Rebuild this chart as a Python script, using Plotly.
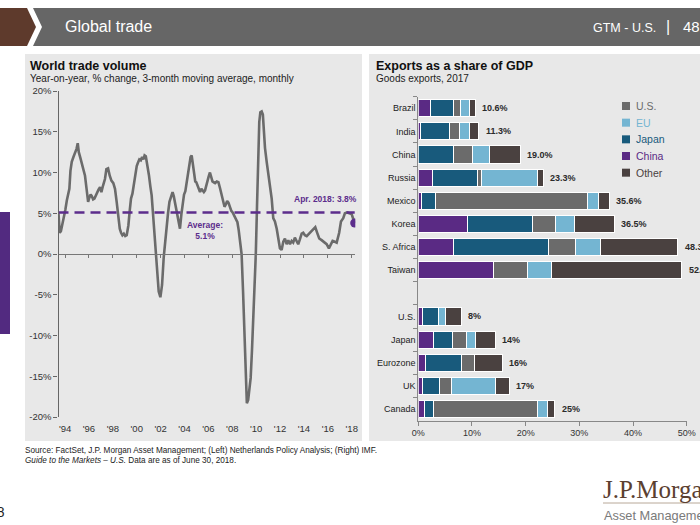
import plotly.graph_objects as go

W, H = 700, 525
FONT = "Liberation Sans, Arial, sans-serif"

# ---------------- Left panel: world trade volume ----------------
trade_time = [1993.45, 1993.55, 1993.65, 1993.78, 1993.92, 1994.02, 1994.15, 1994.28, 1994.36, 1994.45,
              1994.56, 1994.70, 1994.85, 1994.96, 1995.06, 1995.15, 1995.28, 1995.40, 1995.55, 1995.67,
              1995.80, 1995.93, 1996.03, 1996.14, 1996.24, 1996.35, 1996.46, 1996.56, 1996.66, 1996.80,
              1996.93, 1997.04, 1997.18, 1997.34, 1997.46, 1997.60, 1997.74, 1997.88, 1998.04, 1998.18,
              1998.32, 1998.46, 1998.58, 1998.69, 1998.80, 1998.92, 1999.04, 1999.16, 1999.30, 1999.42,
              1999.52, 1999.64, 1999.76, 1999.87, 2000.00, 2000.10, 2000.22, 2000.34, 2000.45, 2000.56,
              2000.66, 2000.76, 2000.86, 2001.02, 2001.14, 2001.25, 2001.36, 2001.47, 2001.58, 2001.70,
              2001.84, 2001.98, 2002.12, 2002.26, 2002.40, 2002.51, 2002.62, 2002.74, 2002.87, 2003.00,
              2003.10, 2003.20, 2003.31, 2003.41, 2003.52, 2003.62, 2003.74, 2003.85, 2003.96, 2004.07,
              2004.18, 2004.30, 2004.40, 2004.51, 2004.60, 2004.70, 2004.80, 2004.90, 2004.99, 2005.08,
              2005.19, 2005.30, 2005.41, 2005.52, 2005.62, 2005.72, 2005.82, 2005.92, 2006.02, 2006.13,
              2006.24, 2006.34, 2006.45, 2006.56, 2006.70, 2006.84, 2006.97, 2007.10, 2007.24, 2007.35,
              2007.47, 2007.57, 2007.68, 2007.80, 2007.92, 2008.03, 2008.14, 2008.24, 2008.34, 2008.43,
              2008.54, 2008.65, 2008.78, 2008.90, 2009.01, 2009.11, 2009.22, 2009.33, 2009.44, 2009.54,
              2009.65, 2009.76, 2009.86, 2009.97, 2010.07, 2010.16, 2010.26, 2010.35, 2010.46, 2010.56,
              2010.64, 2010.74, 2010.88, 2011.01, 2011.15, 2011.30, 2011.43, 2011.57, 2011.72, 2011.85,
              2011.99, 2012.13, 2012.27, 2012.41, 2012.55, 2012.69, 2012.83, 2012.97, 2013.10, 2013.24,
              2013.38, 2013.52, 2013.66, 2013.81, 2013.94, 2014.08, 2014.23, 2014.44, 2014.64, 2014.78,
              2014.95, 2015.11, 2015.28, 2015.48, 2015.62, 2015.76, 2015.90, 2016.09, 2016.23, 2016.40,
              2016.59, 2016.74, 2016.95, 2017.10, 2017.29, 2017.43, 2017.62, 2017.85, 2017.99, 2018.13,
              2018.25]
trade_yoy = [5.0, 2.6, 2.8, 3.6, 4.8, 5.4, 6.6, 7.6, 8.0, 10.2,
             11.3, 11.9, 12.5, 12.9, 13.6, 12.5, 11.8, 11.1, 10.4, 9.6,
             8.0, 6.4, 6.9, 7.3, 7.1, 6.7, 6.8, 7.2, 7.4, 7.9,
             8.2, 7.6, 8.4, 9.2, 10.4, 10.5, 9.6, 9.0, 8.7, 8.0,
             6.4, 4.4, 3.1, 2.6, 2.3, 2.5, 2.2, 2.3, 3.5, 5.4,
             6.8, 7.4, 8.6, 9.7, 10.8, 11.2, 11.6, 11.5, 11.9, 11.6,
             12.1, 12.0, 11.2, 9.7, 8.3, 7.2, 5.0, 2.7, 0.2, -2.6,
             -4.6, -5.3, -3.8, -0.4, 2.0, 3.6, 5.0, 6.4, 7.1, 7.6,
             7.1, 6.3, 5.5, 4.7, 3.9, 3.1, 4.9, 6.1, 7.3, 7.7,
             8.9, 10.2, 11.3, 11.9, 12.1, 11.1, 10.0, 8.9, 8.8, 8.4,
             8.0, 7.6, 8.0, 7.7, 7.6, 7.8, 8.5, 8.9, 9.5, 10.0,
             9.4, 8.9, 8.8, 8.7, 8.9, 8.8, 8.1, 7.2, 6.4, 5.8,
             6.1, 6.5, 6.3, 5.7, 5.3, 5.1, 4.8, 4.6, 4.3, 3.9,
             2.9, 1.8, 0.0, -4.5, -9.5, -14.5, -18.3, -17.9, -16.6, -15.2,
             -11.8, -8.0, -4.2, 0.0, 5.8, 10.9, 16.2, 17.4, 17.5, 17.1,
             15.0, 13.0, 11.3, 9.7, 8.5, 6.8, 4.4, 4.0, 3.1, 1.9,
             0.7, 0.5, 1.5, 1.9, 1.2, 1.7, 1.2, 1.6, 1.4, 2.0,
             1.6, 1.2, 1.8, 2.5, 2.6, 2.3, 2.2, 2.5, 2.8, 3.1,
             3.3, 2.6, 1.9, 1.7, 1.5, 1.4, 1.2, 0.7, 1.1, 1.6,
             1.5, 1.4, 2.6, 4.0, 4.4, 5.0, 5.1, 5.0, 4.9, 4.3,
             3.8]
trade_avg = 5.1
avg_label = "Average:<br>5.1%"
last_label = "Apr. 2018: 3.8%"
year_ticks = list(range(1994, 2019, 2))
year_tick_labels = ["'94", "'96", "'98", "'00", "'02", "'04", "'06", "'08", "'10", "'12", "'14", "'16", "'18"]
pct_ticks = [20, 15, 10, 5, 0, -5, -10, -15, -20]
pct_tick_labels = ["20%", "15%", "10%", "5%", "0%", "-5%", "-10%", "-15%", "-20%"]

# ---------------- Right panel: exports as a share of GDP ----------------
countries = ["Brazil", "India", "China", "Russia", "Mexico", "Korea", "S. Africa", "Taiwan", " ",
             "U.S.", "Japan", "Eurozone", "UK", "Canada"]
to_china = [2.3, 0.5, 0.0, 2.6, 0.6, 9.1, 6.6, 14.0, None, 0.7, 2.8, 1.3, 0.8, 1.1]
to_japan = [4.2, 5.3, 6.5, 8.4, 2.6, 12.1, 17.6, 0.0, None, 3.0, 3.5, 6.8, 3.2, 1.7]
to_us = [1.4, 1.8, 3.6, 0.7, 28.4, 4.4, 5.1, 6.3, None, 0.0, 2.7, 2.4, 2.2, 19.4]
to_eu = [1.7, 1.9, 3.2, 10.5, 2.0, 3.5, 4.7, 4.6, None, 1.4, 1.6, 0.0, 8.1, 1.8]
to_other = [1.0, 1.8, 5.7, 1.1, 2.0, 7.4, 14.3, 24.2, None, 2.9, 3.7, 5.1, 2.6, 1.4]
total_labels = ["10.6%", "11.3%", "19.0%", "23.3%", "35.6%", "36.5%", "48.3%", "52.8%", "",
                "8%", "14%", "16%", "17%", "25%"]
share_ticks = [0, 10, 20, 30, 40, 50]
share_tick_labels = ["0%", "10%", "20%", "30%", "40%", "50%"]

C_CHINA, C_JAPAN, C_US, C_EU, C_OTHER = "#5a2a84", "#185a7c", "#6b6b6b", "#74b5d2", "#4a4140"
PURPLE = "#5c2d8c"

stack = [("China", to_china, C_CHINA), ("Japan", to_japan, C_JAPAN), ("U.S.", to_us, C_US),
         ("EU", to_eu, C_EU), ("Other", to_other, C_OTHER)]
legend_order = [("U.S.", C_US), ("EU", C_EU), ("Japan", C_JAPAN), ("China", C_CHINA), ("Other", C_OTHER)]


def px(x):
    return x / W


def py(y):
    return 1 - y / H


fig = go.Figure()

# line chart
fig.add_trace(go.Scatter(x=trade_time, y=trade_yoy, mode="lines",
                         line=dict(color="#6b6b6b", width=2.6), xaxis="x", yaxis="y",
                         showlegend=False, hoverinfo="skip"))
fig.add_trace(go.Scatter(x=[trade_time[0], trade_time[-1]], y=[trade_avg, trade_avg], mode="lines",
                         line=dict(color=PURPLE, width=2.5, dash="10px,6px"), xaxis="x3", yaxis="y",
                         showlegend=False, hoverinfo="skip"))
fig.add_trace(go.Scatter(x=[trade_time[-1]], y=[trade_yoy[-1]], mode="markers",
                         marker=dict(color=PURPLE, size=9), xaxis="x", yaxis="y",
                         showlegend=False, hoverinfo="skip"))

# stacked bars
for name, vals, col in stack:
    fig.add_trace(go.Bar(y=countries, x=[v if v else None for v in vals], orientation="h", name=name,
                         marker=dict(color=col, line=dict(color="white", width=1)),
                         xaxis="x2", yaxis="y2", showlegend=False, hoverinfo="skip"))

totals = []
for i in range(len(countries)):
    totals.append(sum((s[1][i] or 0) for s in stack))

annotations = []
for c, t, lab in zip(countries, totals, total_labels):
    if lab:
        annotations.append(dict(x=t, y=c, xref="x2", yref="y2", text="<b>" + lab + "</b>",
                                showarrow=False, xanchor="left", xshift=5,
                                font=dict(size=9, color="#2b2b2b", family=FONT)))

# line annotations
annotations.append(dict(x=2005.7, y=trade_avg, xref="x", yref="y", yshift=-18, text="<b>" + avg_label + "</b>",
                        showarrow=False, font=dict(size=8.5, color=PURPLE, family=FONT)))
annotations.append(dict(x=trade_time[-1], y=trade_avg, xref="x", yref="y", yshift=13, xshift=4,
                        xanchor="right", text="<b>" + last_label + "</b>",
                        showarrow=False, font=dict(size=8.5, color=PURPLE, family=FONT)))


# titles
def txt(x, y, s, size, color="#222", bold=False, italic=False, anchor="left", family=FONT):
    if bold:
        s = "<b>" + s + "</b>"
    if italic:
        s = "<i>" + s + "</i>"
    annotations.append(dict(x=px(x), y=py(y), xref="paper", yref="paper", text=s, showarrow=False,
                            xanchor=anchor, yanchor="middle", font=dict(size=size, color=color, family=family)))


txt(28, 66, "World trade volume", 12.5, "#111", bold=True)
txt(28, 79, "Year-on-year, % change, 3-month moving average, monthly", 10, "#222")
txt(374, 66, "Exports as a share of GDP", 12.5, "#111", bold=True)
txt(374, 79, "Goods exports, 2017", 10, "#222")

# header
txt(63, 27, "Global trade", 16, "white")
txt(591, 28, "GTM - U.S.", 12.5, "white")
txt(668, 27, "|", 16, "white", anchor="center")
txt(681, 27, "48", 15, "white")

# footer
txt(23, 450, "Source: FactSet, J.P. Morgan Asset Management; (Left) Netherlands Policy Analysis; (Right) IMF.",
    8.2, "#222")
txt(23, 461, "<i>Guide to the Markets – U.S.</i> Data are as of June 30, 2018.", 8.2, "#222")
txt(601, 489, "J.P.Morgan", 25, "#5b4030", family="Liberation Serif, Times New Roman, serif")
txt(602, 515, "Asset Management", 12.8, "#7a7a7a")
txt(7, 512, "48", 14, "#222", anchor="right")

# manual legend
shapes = []
for i, (name, col) in enumerate(legend_order):
    yc = 106 + 16.67 * i
    shapes.append(dict(type="rect", xref="paper", yref="paper", x0=px(622), x1=px(630),
                       y0=py(yc - 4), y1=py(yc + 4), fillcolor=col, line=dict(width=0), layer="above"))
    annotations.append(dict(x=px(634), y=py(yc), xref="paper", yref="paper", text=name, showarrow=False,
                            xanchor="left", yanchor="middle", font=dict(size=10.5, color=col, family=FONT)))

# background shapes
shapes = [
    dict(type="path", xref="paper", yref="paper", layer="below",
         path=f"M 0 {py(8)} L {px(27)} {py(8)} L {px(36)} {py(27)} L {px(27)} {py(46)} L 0 {py(46)} Z",
         fillcolor="#5e3a2c", line=dict(width=0)),
    dict(type="path", xref="paper", yref="paper", layer="below",
         path=f"M {px(33)} {py(8)} L 1 {py(8)} L 1 {py(46)} L {px(33)} {py(46)} L {px(42)} {py(27)} Z",
         fillcolor="#666666", line=dict(width=0)),
    dict(type="rect", xref="paper", yref="paper", layer="below", x0=px(25), x1=px(362), y0=py(441), y1=py(54),
         fillcolor="#e8e8e8", line=dict(width=0)),
    dict(type="rect", xref="paper", yref="paper", layer="below", x0=px(369), x1=1, y0=py(441), y1=py(54),
         fillcolor="#e8e8e8", line=dict(width=0)),
    dict(type="rect", xref="paper", yref="paper", layer="below", x0=0, x1=px(10), y0=py(334), y1=py(212),
         fillcolor="#522a80", line=dict(width=0)),
    dict(type="line", xref="paper", yref="paper", layer="below", x0=px(603), x1=1, y0=py(503), y1=py(503),
         line=dict(color="#b8a898", width=1)),
] + shapes

LX = [px(58.5), px(355.3)]
LY = [py(417), py(91)]
RX = [px(418.3), px(686.7)]
RY = [py(420.6), py(96.7)]
XR = [1993.45, 2018.3]

axis_font = dict(size=9.5, color="#333", family=FONT)

fig.update_layout(
    width=W, height=H, margin=dict(l=0, r=0, t=0, b=0, pad=0, autoexpand=False),
    paper_bgcolor="white", plot_bgcolor="rgba(0,0,0,0)",
    font=dict(family=FONT, color="#333"),
    barmode="stack", bargap=0.26, showlegend=False,
    xaxis=dict(domain=LX, anchor="y", range=XR, tickvals=year_ticks, ticktext=year_tick_labels,
               showline=False, showgrid=False, zeroline=False, ticks="outside", ticklen=3,
               tickcolor="rgba(0,0,0,0)", tickfont=axis_font, automargin=False),
    xaxis3=dict(overlaying="x", anchor="free", position=(LY[0] + LY[1]) / 2, range=XR,
                tickvals=year_ticks, showticklabels=False, showline=True, linecolor="#777", linewidth=1.2,
                ticks="outside", ticklen=3, tickcolor="#777", showgrid=False, zeroline=False, side="bottom",
                automargin=False),
    yaxis=dict(domain=LY, anchor="x", range=[-20, 20], tickvals=pct_ticks, ticktext=pct_tick_labels,
               showline=True, linecolor="#666", linewidth=1.2, ticks="outside", ticklen=4, tickcolor="#666",
               showgrid=False, zeroline=False, tickfont=axis_font, automargin=False),
    xaxis2=dict(domain=RX, anchor="y2", range=[0, 50], tickvals=share_ticks, ticktext=share_tick_labels,
                showline=True, linecolor="#888", linewidth=1, ticks="outside", ticklen=4, tickcolor="#888",
                showgrid=False, zeroline=False, tickfont=dict(size=9, color="#333", family=FONT),
                automargin=False),
    yaxis2=dict(domain=RY, anchor="x2", type="category", categoryorder="array", categoryarray=countries,
                autorange="reversed", showline=True, linecolor="#888", linewidth=1, ticks="outside",
                tickson="boundaries", ticklen=4, tickcolor="#888", showgrid=False, zeroline=False,
                tickfont=dict(size=9, color="#222", family=FONT), automargin=False),
    shapes=shapes, annotations=annotations,
)

fig.write_html("out.html", config={"displayModeBar": False},
               post_script="document.body.style.margin='0px';")
